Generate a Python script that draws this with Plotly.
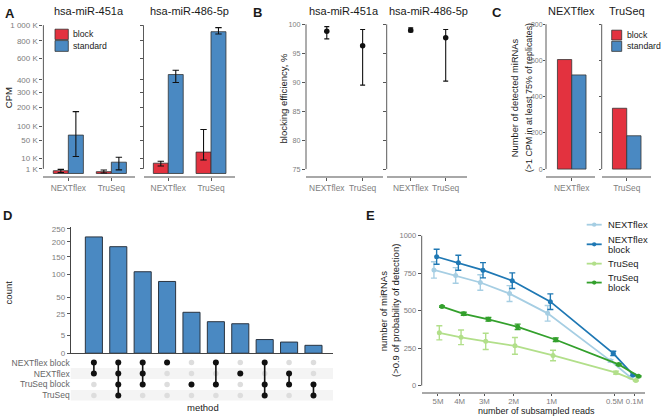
import numpy as np
import plotly.graph_objects as go

W, H = 665, 420
FONT = "Liberation Sans, Arial, sans-serif"
RED = "#E3323F"
BLUE = "#4A89C2"
TICK_TXT = "#7d7d7d"
TICK_COL = "#555555"
XLINE = "#a8a8a8"
YLINE = "#5a5a5a"

# ---------------- DATA ----------------
kits = ["NEXTflex", "TruSeq"]
mirnas = ["hsa-miR-451a", "hsa-miR-486-5p"]

# Panel A: CPM in thousands (mean, low, high) per kit
a451_block = [0.35, 0.15]
a451_block_lo = [0.05, 0.01]
a451_block_hi = [0.75, 0.55]
a451_std = [67, 5.8]
a451_std_lo = [13, 0.6]
a451_std_hi = [174, 12]
a486_block = [4.8, 20.8]
a486_block_lo = [2.5, 8.3]
a486_block_hi = [6.8, 88]
a486_std = [445, 914]
a486_std_lo = [377, 884]
a486_std_hi = [484, 968]
cpm_ticks_k = [1, 10, 50, 100, 200, 300, 400, 600, 800, 1000]
cpm_tick_labels = ["1 K", "10 K", "50 K", "100 K", "200 K", "300 K", "400 K", "600 K", "800 K", "1 000 K"]

# Panel B: blocking efficiency, %
b451_eff = [98.8, 96.3]
b451_lo = [97.5, 89.5]
b451_hi = [99.6, 99.1]
b486_eff = [99.0, 97.7]
b486_lo = [98.7, 90.2]
b486_hi = [99.4, 99.1]
b_ticks = [75, 80, 85, 90, 95, 100]

# Panel C: number of detected miRNAs
c_block = [605, 336]
c_std = [520, 184]
c_ticks = [0, 200, 400, 600, 800]

# Panel D: UpSet
d_sets = ["NEXTflex block", "NEXTflex", "TruSeq block", "TruSeq"]
d_counts = [218, 183, 107, 83, 27, 16, 14, 3, 2, 1]
d_members = [
    ["NEXTflex block", "NEXTflex"],
    ["NEXTflex block", "NEXTflex", "TruSeq block", "TruSeq"],
    ["NEXTflex block", "NEXTflex", "TruSeq block"],
    ["NEXTflex block"],
    ["TruSeq block"],
    ["NEXTflex block", "TruSeq block"],
    ["NEXTflex"],
    ["NEXTflex block", "TruSeq block", "TruSeq"],
    ["NEXTflex", "TruSeq block"],
    ["TruSeq block", "TruSeq"],
]
d_ticks = [0, 5, 25, 50, 100, 150, 200, 250]

# Panel E: subsampling (axis positions in millions of reads)
e_reads_pos = [5, 4, 3, 2, 1, 0.1, 0.01]
e_tick_labels = ["5M", "4M", "3M", "2M", "1M", "0.5M", "0.1M"]
e_series = ["NEXTflex", "NEXTflex block", "TruSeq", "TruSeq block"]
e_nextflex = [772, 735, 688, 614, 482, 165, 55]
e_nextflex_err = [55, 52, 52, 53, 52, 8, 3]
e_nextflex_block = [860, 820, 770, 700, 560, 215, 71]
e_nextflex_block_err = [50, 50, 51, 52, 52, 14, 5]
e_truseq = [352, 322, 295, 265, 201, 86, 33]
e_truseq_err = [47, 49, 54, 56, 35, 10, 3]
e_truseq_block = [527, 479, 442, 392, 306, 141, 62]
e_truseq_block_err = [5, 10, 12, 18, 12, 5, 3]
e_colors = ["#A6CEE3", "#1F78B4", "#B2DF8A", "#33A02C"]
e_yticks = [0, 250, 500, 750, 1000]


# ---------------- helpers ----------------
def xd(a, b):
    return [a / W, b / W]


def yd(top, bottom):
    return [1 - bottom / H, 1 - top / H]


def px(x):
    return x / W


def py(y):
    return 1 - y / H


annotations = []
shapes = []


def ann(text, x, y, size=9.5, color="#1a1a1a", xanchor="center", yanchor="middle", angle=0, bold=False):
    if bold:
        text = "<b>" + text + "</b>"
    annotations.append(dict(
        text=text, x=px(x), y=py(y), xref="paper", yref="paper", showarrow=False,
        xanchor=xanchor, yanchor=yanchor, textangle=angle, borderpad=0,
        font=dict(family=FONT, size=size, color=color),
    ))


def rect(x0, y0, x1, y1, fill):
    shapes.append(dict(type="rect", xref="paper", yref="paper", x0=px(x0), x1=px(x1),
                       y0=py(y1), y1=py(y0), fillcolor=fill, line=dict(color="#333333", width=0.8)))


def cap_y(xa, ya, lo, hi):
    shapes.append(dict(type="line", xref=xa + " domain", x0=0, x1=0, yref=ya, y0=lo, y1=hi,
                       line=dict(color=YLINE, width=1)))


fig = go.Figure()
layout_axes = {}


def xaxis_cfg(domain, rng, anchor, **kw):
    d = dict(domain=domain, range=rng, anchor=anchor, showgrid=False, zeroline=False,
             showline=True, linecolor=XLINE, linewidth=1.6, ticks="outside", ticklen=3,
             tickcolor=TICK_COL, tickangle=0,
             tickfont=dict(family=FONT, size=8.4, color=TICK_TXT), fixedrange=True)
    d.update(kw)
    return d


def yaxis_cfg(domain, rng, anchor, size=8, **kw):
    d = dict(domain=domain, range=rng, anchor=anchor, showgrid=False, zeroline=False,
             showline=False, ticks="outside", ticklen=3, tickcolor=TICK_COL,
             tickfont=dict(family=FONT, size=size, color=TICK_TXT), fixedrange=True)
    d.update(kw)
    return d


LEG = 8.7

# ---------------- Panel A ----------------
A_Y = yd(20, 176.7)
A_RANGE = [-0.61, 32.17]
a_data = [
    (a451_block, a451_block_lo, a451_block_hi, a451_std, a451_std_lo, a451_std_hi),
    (a486_block, a486_block_lo, a486_block_hi, a486_std, a486_std_lo, a486_std_hi),
]
a_domains = [xd(43.4, 135), xd(143.5, 234.5)]
for i, (bm, bl, bh, sm, sl, sh) in enumerate(a_data):
    n = 1 + i
    xa = "x" if n == 1 else "x%d" % n
    ya = "y" if n == 1 else "y%d" % n
    for vals, lo, hi, col, name in [(bm, bl, bh, RED, "block"), (sm, sl, sh, BLUE, "standard")]:
        v = np.sqrt(np.array(vals, float))
        fig.add_trace(go.Bar(
            x=kits, y=v, name=name, xaxis=xa, yaxis=ya, showlegend=False,
            marker=dict(color=col, line=dict(color="#333333", width=0.8)),
            error_y=dict(type="data", symmetric=False,
                         array=np.sqrt(np.array(hi, float)) - v,
                         arrayminus=v - np.sqrt(np.array(lo, float)),
                         color="#111111", thickness=1.1, width=3.2),
        ))
    layout_axes["xaxis" if n == 1 else "xaxis%d" % n] = xaxis_cfg(
        a_domains[i], [-0.58, 1.55], ya, type="category")
    yk = dict(tickvals=list(np.sqrt(cpm_ticks_k)), ticktext=cpm_tick_labels)
    if i == 1:
        yk["showticklabels"] = False
    layout_axes["yaxis" if n == 1 else "yaxis%d" % n] = yaxis_cfg(A_Y, A_RANGE, xa, size=8, **yk)
    cap_y(xa, ya, 1, float(np.sqrt(1000)))

ann("A", 4, 11, size=13, xanchor="left", bold=True)
ann(mirnas[0], 89, 8, size=11)
ann(mirnas[1], 189, 8, size=11)
ann("CPM", 8, 97, size=9.5, angle=-90)
rect(55, 26.7, 68.3, 37.3, RED)
rect(55, 38.3, 68.3, 49.3, BLUE)
ann("block", 71.7, 32, size=LEG, xanchor="left")
ann("standard", 71.7, 44, size=LEG, xanchor="left")

# ---------------- Panel B ----------------
B_Y = yd(20, 176.7)
B_RANGE = [73.75, 100.3]
b_data = [(b451_eff, b451_lo, b451_hi), (b486_eff, b486_lo, b486_hi)]
b_domains = [xd(306, 382.7), xd(386.7, 466.7)]
b_xr = [[-0.58, 1.56], [-0.686, 1.6]]
for i, (m, lo, hi) in enumerate(b_data):
    n = 3 + i
    xa, ya = "x%d" % n, "y%d" % n
    m_ = np.array(m)
    fig.add_trace(go.Scatter(
        x=kits, y=m_, mode="markers", xaxis=xa, yaxis=ya, showlegend=False,
        marker=dict(color="#111111", size=5.5),
        error_y=dict(type="data", symmetric=False, array=np.array(hi) - m_,
                     arrayminus=m_ - np.array(lo), color="#111111", thickness=1.1, width=2.5),
    ))
    layout_axes["xaxis%d" % n] = xaxis_cfg(b_domains[i], b_xr[i], ya, type="category")
    yk = dict(tickvals=b_ticks)
    if i == 1:
        yk["showticklabels"] = False
    layout_axes["yaxis%d" % n] = yaxis_cfg(B_Y, B_RANGE, xa, size=7.2, **yk)
    cap_y(xa, ya, 75, 100)

ann("B", 257, 10, size=13, bold=True)
ann(mirnas[0], 344, 8, size=11)
ann(mirnas[1], 428, 8, size=11)
ann("blocking efficiency, %", 283.3, 97, size=9.5, angle=-90)

# ---------------- Panel C ----------------
C_Y = yd(20, 176.7)
C_RANGE = [-40, 809]
c_domains = [xd(546, 595), xd(601.7, 651)]
c_xr = [[-0.63, 0.57], [-0.613, 0.595]]
for i in range(2):
    n = 5 + i
    xa, ya = "x%d" % n, "y%d" % n
    for vals, col, name in [(c_block, RED, "block"), (c_std, BLUE, "standard")]:
        fig.add_trace(go.Bar(
            x=[kits[i]], y=[vals[i]], name=name, xaxis=xa, yaxis=ya, showlegend=False,
            marker=dict(color=col, line=dict(color="#333333", width=0.8)),
        ))
    layout_axes["xaxis%d" % n] = xaxis_cfg(c_domains[i], c_xr[i], ya, type="category")
    yk = dict(tickvals=c_ticks)
    if i == 1:
        yk["showticklabels"] = False
    layout_axes["yaxis%d" % n] = yaxis_cfg(C_Y, C_RANGE, xa, size=7, ticklen=2,
                                           ticklabelstandoff=-1, **yk)
    cap_y(xa, ya, 0, 800)

ann("C", 497, 10, size=13, bold=True)
ann("NEXTflex", 571.7, 8, size=11)
ann("TruSeq", 627.3, 8, size=11)
ann("Number of detected miRNAs", 515, 97, size=9.3, angle=-90)
ann("(&gt;1 CPM in at least 75% of replicates)", 529, 97, size=8.9, angle=-90)
rect(611.7, 27.7, 621.7, 37.7, RED)
rect(611.7, 39, 621.7, 49.3, BLUE)
ann("block", 625.5, 33, size=LEG, xanchor="left")
ann("standard", 625.5, 44, size=LEG, xanchor="left")

# ---------------- Panel D ----------------
D_XD = xd(70.7, 333)
D_XR = [-0.95, 9.8]
idx = list(range(len(d_counts)))
fig.add_trace(go.Bar(
    x=idx, y=np.sqrt(np.array(d_counts, float)), xaxis="x7", yaxis="y7", showlegend=False,
    marker=dict(color=BLUE, line=dict(color="#2a3440", width=1)),
))
layout_axes["xaxis7"] = xaxis_cfg(D_XD, D_XR, "y7", showticklabels=False, ticks="",
                                  linecolor="#444444", linewidth=1)
layout_axes["yaxis7"] = yaxis_cfg(yd(228, 357), [0, 16.07], "x7", size=8,
                                  tickvals=list(np.sqrt(d_ticks)), ticktext=[str(t) for t in d_ticks],
                                  showline=True, linecolor="#444444", linewidth=1)

# matrix
rows = {s: r for r, s in enumerate(d_sets)}
for r in (1, 3):
    shapes.append(dict(type="rect", xref="x8 domain", x0=0, x1=1, yref="y8", y0=r - 0.5, y1=r + 0.5,
                       fillcolor="#f4f4f4", line=dict(width=0), layer="below"))
gx, gy, bx, by, lx, ly = [], [], [], [], [], []
for c, mem in enumerate(d_members):
    rs = sorted(rows[m] for m in mem)
    for s in d_sets:
        if s in mem:
            bx.append(c)
            by.append(rows[s])
        else:
            gx.append(c)
            gy.append(rows[s])
    if len(rs) > 1:
        lx += [c, c, None]
        ly += [rs[0], rs[-1], None]
fig.add_trace(go.Scatter(x=gx, y=gy, mode="markers", xaxis="x8", yaxis="y8", showlegend=False,
                         marker=dict(color="#dddddd", size=5.5)))
fig.add_trace(go.Scatter(x=lx, y=ly, mode="lines", xaxis="x8", yaxis="y8", showlegend=False,
                         line=dict(color="#111111", width=1.6)))
fig.add_trace(go.Scatter(x=bx, y=by, mode="markers", xaxis="x8", yaxis="y8", showlegend=False,
                         marker=dict(color="#111111", size=6)))
layout_axes["xaxis8"] = xaxis_cfg(D_XD, D_XR, "y8", showticklabels=False, ticks="", showline=False)
layout_axes["yaxis8"] = yaxis_cfg(yd(361, 405.6), [3.5, -0.5], "x8", size=8.5,
                                  tickvals=list(range(4)), ticktext=d_sets, ticks="")
layout_axes["yaxis8"]["tickfont"]["color"] = "#666666"

ann("D", 7, 217, size=13, bold=True)
ann("count", 8, 295, size=9.5, angle=-90)
ann("method", 203, 412, size=9.5)

# ---------------- Panel E ----------------
e_vals = [e_nextflex, e_nextflex_block, e_truseq, e_truseq_block]
e_errs = [e_nextflex_err, e_nextflex_block_err, e_truseq_err, e_truseq_block_err]
dodge = 0.0293
offsets = [1.5 * dodge, 0.5 * dodge, -0.5 * dodge, -1.5 * dodge]
xs = np.sqrt(np.array(e_reads_pos, float))
for k in range(4):
    fig.add_trace(go.Scatter(
        x=xs + offsets[k], y=e_vals[k], mode="lines+markers", name=e_series[k],
        xaxis="x9", yaxis="y9", showlegend=False,
        line=dict(color=e_colors[k], width=1.8), marker=dict(color=e_colors[k], size=5),
        error_y=dict(type="data", array=e_errs[k], color=e_colors[k], thickness=1.4, width=3),
    ))
layout_axes["xaxis9"] = xaxis_cfg(xd(421.7, 645), [2.413, -0.014], "y9", ticklen=2,
                                  ticklabelstandoff=-1, tickvals=list(xs), ticktext=e_tick_labels)
layout_axes["xaxis9"]["tickfont"]["size"] = 7.8
layout_axes["yaxis9"] = yaxis_cfg(yd(235, 396.7), [-44, 1015], "x9", size=7.5, tickvals=e_yticks)
cap_y("x9", "y9", 0, 1000)

ann("E", 370, 217, size=13, bold=True)
ann("number of miRNAs", 383.3, 314, size=9.5, angle=-90)
ann("(&gt;0.9 of probability of detection)", 395, 314, size=9.5, angle=-90)
ann("number of subsampled reads", 536.7, 415.6, size=9)

leg_y = [226, 246, 265.7, 285]
leg_txt = [["NEXTflex"], ["NEXTflex", "block"], ["TruSeq"], ["TruSeq", "block"]]
for k in range(4):
    shapes.append(dict(type="line", xref="paper", yref="paper", x0=px(586.7), x1=px(601.7),
                       y0=py(leg_y[k]), y1=py(leg_y[k]), line=dict(color=e_colors[k], width=1.8)))
    shapes.append(dict(type="circle", xref="paper", yref="paper", x0=px(592), x1=px(596.4),
                       y0=py(leg_y[k] + 2.2), y1=py(leg_y[k] - 2.2),
                       fillcolor=e_colors[k], line=dict(width=0)))
    t = leg_txt[k]
    if len(t) == 1:
        ann(t[0], 607, leg_y[k], size=9.4, xanchor="left")
    else:
        ann(t[0], 607, leg_y[k] - 4.8, size=9.4, xanchor="left")
        ann(t[1], 607, leg_y[k] + 5.2, size=9.4, xanchor="left")

fig.update_layout(
    width=W, height=H, autosize=False,
    margin=dict(l=0, r=0, t=0, b=0),
    paper_bgcolor="white", plot_bgcolor="white",
    barmode="group", bargap=0.3, bargroupgap=0,
    font=dict(family=FONT, size=9, color="#222222"),
    annotations=annotations, shapes=shapes,
    **layout_axes,
)

fig.write_html("out.html", config={"displayModeBar": False},
               post_script="document.body.style.margin='0';document.body.style.overflow='hidden';")
